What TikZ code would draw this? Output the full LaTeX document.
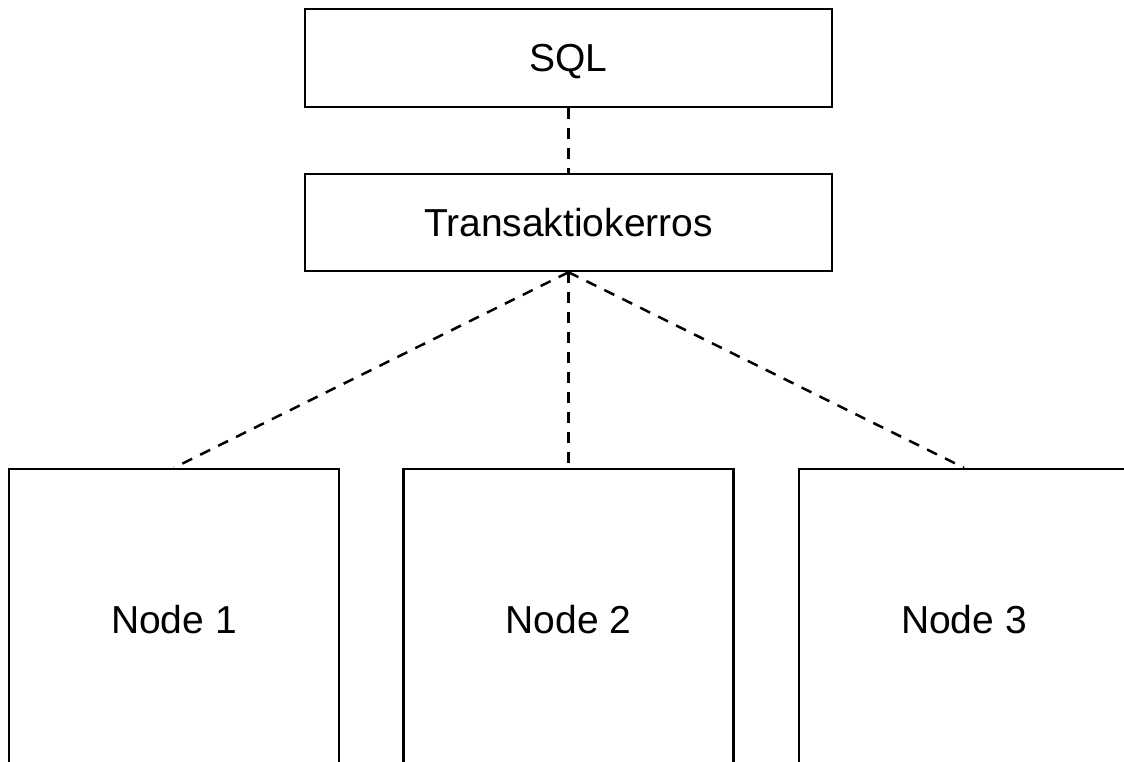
\documentclass[tikz,border=0pt]{standalone}
\usepackage{fontspec}
\setmainfont{Liberation Sans}
\begin{document}
\begin{tikzpicture}[x=1pt, y=-1pt,
  box/.style={draw=black, line width=2.5pt, fill=white, inner sep=0pt,
    text height=28pt, text depth=0pt,
    font=\fontsize{39}{47}\selectfont},
  link/.style={draw=black, line width=2.5pt, dash pattern=on 11pt off 9pt}]
  \path[use as bounding box] (0,0) rectangle (1124,762);
  \clip (0,0) rectangle (1124,762);

  % layers
  \node[box, minimum width=527pt, minimum height=98pt] (sql) at (568.5,58) {SQL};
  \node[box, minimum width=527pt, minimum height=97pt] (tx) at (568.5,222.5) {Transaktiokerros};

  % storage nodes
  \node[box, minimum width=330pt, minimum height=300pt] (n1) at (174,619) {Node 1};
  \node[box, minimum width=330pt, minimum height=300pt] (n2) at (568.5,619) {Node 2};
  \node[box, minimum width=330pt, minimum height=300pt] (n3) at (964,619) {Node 3};

  % connections
  \draw[link] (sql.south) -- (tx.north);
  \draw[link] (tx.south) -- (n1.north);
  \draw[link] (tx.south) -- (n2.north);
  \draw[link] (tx.south) -- (n3.north);
\end{tikzpicture}
\end{document}
